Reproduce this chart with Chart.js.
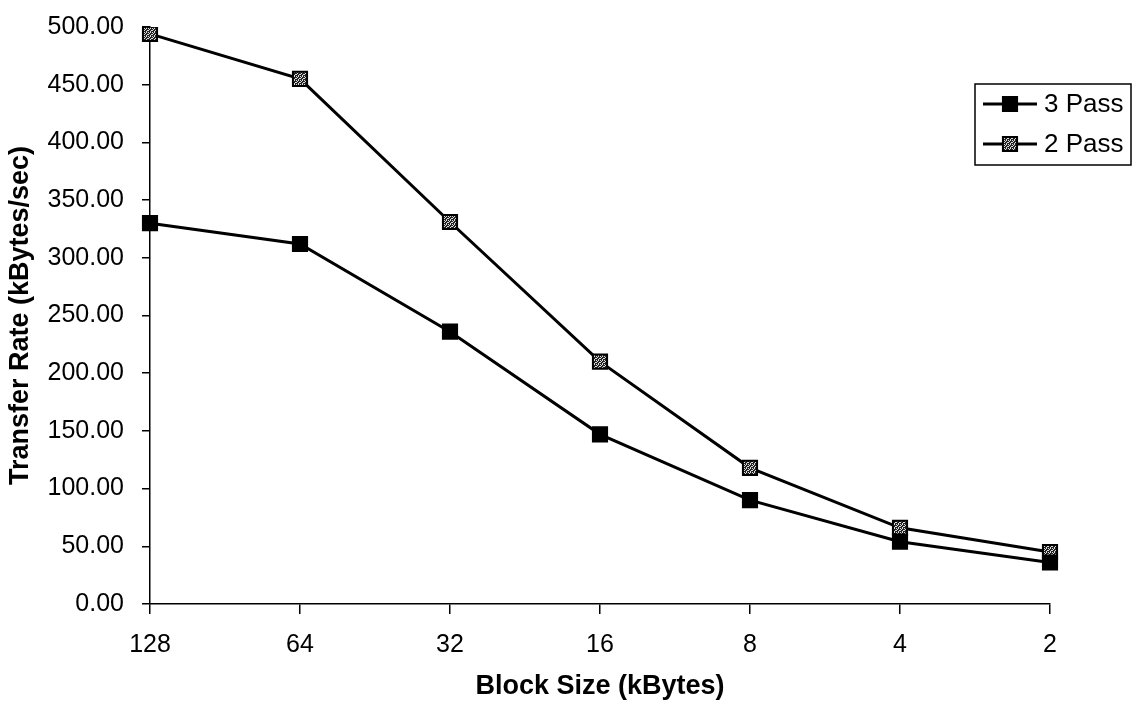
<!DOCTYPE html>
<html>
<head>
<meta charset="utf-8">
<script src="https://cdn.jsdelivr.net/npm/chart.js@4/dist/chart.umd.min.js"></script>
<style>
  html, body { margin: 0; padding: 0; background: #fff; }
  #wrap { width: 1133px; height: 703px; }
</style>
</head>
<body>
<div id="wrap"><canvas id="rate-chart"></canvas></div>
<script>
// Block sizes (kBytes) and measured transfer rates (kBytes/sec)
const blockSizes = ["128", "64", "32", "16", "8", "4", "2"];
const threePass = [330, 312, 236, 147, 90, 54, 36];
const twoPass = [494, 455, 331, 210, 118, 66, 45];

// speckled fill for the 2 Pass markers
function makeSpeckle() {
    const c = document.createElement("canvas");
    c.width = 4; c.height = 4;
    const g = c.getContext("2d");
    g.fillStyle = "#222";
    g.fillRect(0, 0, 4, 4);
    g.fillStyle = "#ddd";
    g.fillRect(0, 0, 1, 1);
    g.fillRect(2, 0, 1, 1);
    g.fillRect(1, 1, 1, 1);
    g.fillRect(3, 2, 1, 1);
    g.fillRect(0, 2, 1, 1);
    g.fillRect(2, 3, 1, 1);
    return g.createPattern(c, "repeat");
}
const speckle = makeSpeckle();

// boxed legend that sits over the top right corner
const boxLegend = {
    id: "boxLegend",
    afterDraw(chart) {
        const ctx = chart.ctx;
        const x0 = 975, y0 = 84, w = 156, h = 81;
        ctx.save();
        ctx.lineWidth = 1.5;
        ctx.strokeStyle = "#000";
        ctx.strokeRect(x0, y0, w, h);
        chart.data.datasets.forEach((ds, i) => {
            const y = y0 + 20 + i * 40;
            ctx.lineWidth = 3;
            ctx.beginPath();
            ctx.moveTo(x0 + 8, y);
            ctx.lineTo(x0 + 62, y);
            ctx.stroke();
            ctx.fillStyle = ds.pointBackgroundColor;
            ctx.strokeStyle = "#000";
            ctx.lineWidth = 2;
            Chart.helpers.drawPoint(ctx, { pointStyle: "rect", radius: 10, borderWidth: 2 }, x0 + 35, y);
            ctx.fillStyle = "#000";
            ctx.font = "26px 'Liberation Sans', Arial, sans-serif";
            ctx.textBaseline = "middle";
            ctx.fillText(ds.label, x0 + 69, y + 1);
        });
        ctx.restore();
    }
};

const tickFont = { family: "'Liberation Sans', Arial, sans-serif", size: 25 };
const titleFont = { family: "'Liberation Sans', Arial, sans-serif", size: 27, weight: "bold" };

new Chart(document.getElementById("rate-chart"), {
    type: "line",
    data: {
        labels: blockSizes,
        datasets: [
            {
                label: "3 Pass",
                data: threePass,
                borderColor: "#000",
                borderWidth: 3,
                pointStyle: "rect",
                pointRadius: 10,
                pointBorderWidth: 2,
                pointBorderColor: "#000",
                pointBackgroundColor: "#000"
            },
            {
                label: "2 Pass",
                data: twoPass,
                borderColor: "#000",
                borderWidth: 3,
                pointStyle: "rect",
                pointRadius: 10,
                pointBorderWidth: 2,
                pointBorderColor: "#000",
                pointBackgroundColor: speckle
            }
        ]
    },
    options: {
        responsive: true,
        maintainAspectRatio: false,
        animation: false,
        layout: { padding: { top: 27, right: 83, left: 0, bottom: 0 } },
        plugins: {
            legend: { display: false },
            tooltip: { enabled: false }
        },
        scales: {
            x: {
                offset: false,
                afterFit: s => { s.height = 99; },
                grid: { drawOnChartArea: false, color: "#000", tickLength: 10, lineWidth: 1.5 },
                border: { color: "#000", width: 1.5 },
                ticks: { color: "#000", font: tickFont, padding: 16, maxRotation: 0 },
                title: { display: true, text: "Block Size (kBytes)", color: "#000", font: titleFont, padding: { top: 0, bottom: 0 } }
            },
            y: {
                min: 0,
                max: 500,
                afterFit: s => {
                    s.width = 150;
                    s.paddingTop = 0;
                    s.paddingBottom = 0;
                },
                grid: { drawOnChartArea: false, color: "#000", tickLength: 8, lineWidth: 1.5 },
                border: { color: "#000", width: 1.5 },
                ticks: {
                    stepSize: 50,
                    color: "#000",
                    font: tickFont,
                    padding: 18,
                    callback: v => v.toFixed(2)
                },
                title: { display: true, text: "Transfer Rate (kBytes/sec)", color: "#000", font: titleFont, padding: { top: 4, bottom: 0 } }
            }
        }
    },
    plugins: [boxLegend]
});
</script>
</body>
</html>
